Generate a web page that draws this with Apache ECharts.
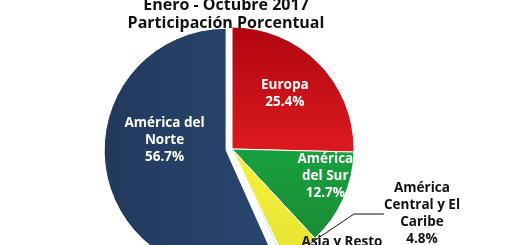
<!DOCTYPE html>
<html>
<head>
<meta charset="utf-8">
<script src="https://cdn.jsdelivr.net/npm/echarts@6/dist/echarts.min.js"></script>
<style>
html,body{margin:0;padding:0;background:#fff;}
#c{width:520px;height:245px;}
</style>
</head>
<body>
<div id="c"></div>
<script>
const titleLines = ['Enero - Octubre 2017', 'Participación Porcentual'];
const categories = ['Europa', 'América del Sur', 'América Central y El Caribe', 'Asia y Resto', 'América del Norte'];
const labelTexts = ['Europa', 'América\ndel Sur', 'América\nCentral y El\nCaribe', 'Asia y Resto', 'América del\nNorte'];
const values = [25.4, 12.7, 4.8, 0.4, 56.7];

const colors = [
  new echarts.graphic.LinearGradient(0, 0, 0, 1, [{offset: 0, color: '#b00610'}, {offset: 1, color: '#dc1a1f'}]),
  new echarts.graphic.LinearGradient(0, 0, 0, 1, [{offset: 0, color: '#18a040'}, {offset: 1, color: '#1b8c35'}]),
  new echarts.graphic.LinearGradient(0, 0, 0, 1, [{offset: 0, color: '#f3f23c'}, {offset: 1, color: '#e6e432'}]),
  '#e4e8ee',
  new echarts.graphic.LinearGradient(0, 0, 1, 0, [{offset: 0, color: '#22395c'}, {offset: 1, color: '#2a4670'}])
];
const inside = [true, true, false, false, true];

const chart = echarts.init(document.getElementById('c'), null, {renderer: 'canvas'});
const font = '"Open Sans", Lato, "DejaVu Sans", sans-serif';

chart.setOption({
  animation: false,
  title: {
    text: titleLines.join('\n'),
    left: 226,
    top: -4,
    padding: 0,
    itemGap: 0,
    textAlign: 'center',
    textStyle: {fontFamily: font, fontWeight: 'bold', fontSize: 16, lineHeight: 18, color: '#111'}
  },
  series: [{
    type: 'pie',
    center: [232, 149],
    radius: 122,
    startAngle: 90,
    clockwise: true,
    selectedMode: 'single',
    selectedOffset: 6,
    emphasis: {disabled: true},
    silent: true,
    avoidLabelOverlap: false,
    itemStyle: {borderColor: '#fff', borderWidth: 1},
    data: categories.map((name, i) => ({
      name: name,
      value: values[i],
      selected: i === 4,
      itemStyle: {color: colors[i]},
      label: inside[i] ? {
        position: 'inside',
        color: '#fff'
      } : {
        position: 'outside',
        color: '#111'
      },
      labelLine: {show: i === 2, length: 10, length2: 30, lineStyle: {color: '#111', width: 1}}
    })),
    label: {
      fontFamily: font,
      fontWeight: 'bold',
      fontSize: 13.5,
      lineHeight: 17,
      align: 'center',
      formatter: p => labelTexts[p.dataIndex] + '\n' + values[p.dataIndex].toFixed(1) + '%'
    },
    labelLayout: function (p) {
      switch (p.dataIndex) {
        case 0: return {dx: 7, dy: -11};
        case 1: return {dx: 35, dy: 1};
        case 2: return {x: 422, y: 214, align: 'center', verticalAlign: 'middle'};
        case 3: return {x: 342, y: 251, align: 'center', verticalAlign: 'middle'};
        case 4: return {dx: 1, dy: -23};
      }
    }
  }]
});
</script>
</body>
</html>
